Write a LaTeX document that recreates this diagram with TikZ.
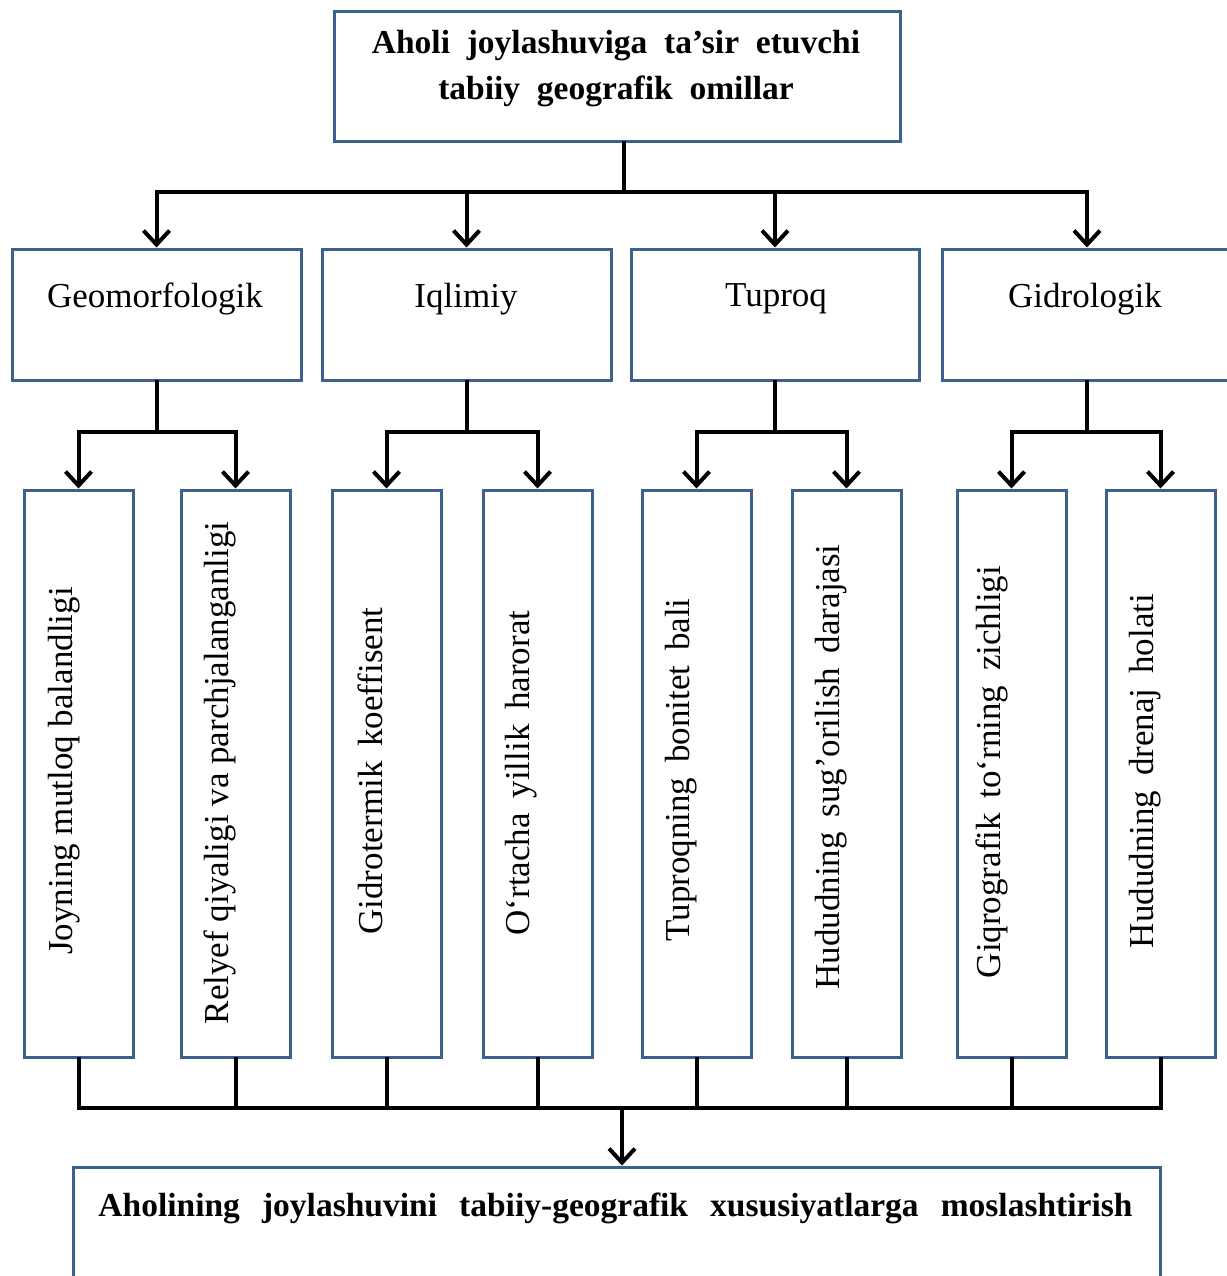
\documentclass[tikz,border=0pt]{standalone}
\usepackage{fontspec}
\setmainfont{Liberation Serif}
\usetikzlibrary{arrows.meta}
\definecolor{boxblue}{RGB}{62,96,140}
\newcommand\wsp{\hspace{0.42em}}
\newcommand\bsp{\hspace{0.5em}}
\newcommand\csp{\hspace{0.66em}}
\tikzset{
  box/.style={draw=boxblue, line width=3pt, inner sep=0pt, fill=white},
  conn/.style={draw=black, line width=4pt, line cap=rect},
  arr/.style={draw=black, line width=4pt, -{Straight Barb[length=14pt,width=26pt,line width=4pt]}},
  toptext/.style={font=\fontsize{33.5}{46}\selectfont\bfseries, align=center, inner sep=0pt},
  midtext/.style={font=\fontsize{35}{40}\selectfont, inner sep=0pt},
  vtext/.style={font=\fontsize{35}{40}\selectfont, inner sep=0pt, rotate=90},
}
\begin{document}
\begin{tikzpicture}[x=1pt,y=-1pt]
\useasboundingbox (0,0) rectangle (1226,1276);
% top box
\node[box, minimum width=566, minimum height=130] (top) at (617,77) {};
\node[toptext] (topt) at (616,69) {Aholi\bsp joylashuviga\bsp ta’sir\bsp etuvchi\\tabiiy\bsp geografik\bsp omillar};
% level 2
\node[box, minimum width=289, minimum height=131] (g1) at (156.5,314.5) {};
\node[box, minimum width=289, minimum height=131] (g2) at (466.5,314.5) {};
\node[box, minimum width=288, minimum height=131] (g3) at (775,314.5) {};
\node[box, minimum width=290, minimum height=131] (g4) at (1087,314.5) {};
\node[midtext] (t1) at (155,299) {Geomorfologik};
\node[midtext] (t2) at (466,299) {Iqlimiy};
\node[midtext] (t3) at (776,299) {Tuproq};
\node[midtext] (t4) at (1085,299) {Gidrologik};
% level 3
\foreach \n/\x in {1/78.5,2/235.5,3/386.5,4/537.5,5/696.5,6/846.5,7/1011.5,8/1160.5}{
  \node[box, minimum width=109, minimum height=567] (b\n) at (\x,773.5) {};
}
\node[vtext] (v1) at (64,771) {Joyning mutloq balandligi};
\node[vtext] (v2) at (220,773) {Relyef qiyaligi va parchjalanganligi};
\node[vtext] (v3) at (370,771) {Gidrotermik\wsp koeffisent};
\node[vtext] (v4) at (521,773) {O‘rtacha\wsp yillik\wsp harorat};
\node[vtext] (v5) at (681,770) {Tuproqning\wsp bonitet\wsp bali};
\node[vtext] (v6) at (831,767) {Hududning\wsp sug’orilish\wsp darajasi};
\node[vtext] (v7) at (992,772) {Giqrografik\wsp to‘rning\wsp zichligi};
\node[vtext] (v8) at (1145,771) {Hududning\wsp drenaj\wsp holati};
% bottom box
\node[box, minimum width=1087, minimum height=130] (bot) at (616.5,1232) {};
\node[font=\fontsize{33.5}{40}\selectfont\bfseries, inner sep=0pt] (bt) at (615.5,1208) {Aholining\csp joylashuvini\csp tabiiy-geografik\csp xususiyatlarga\csp moslashtirish};
% connectors top -> level 2
\coordinate (j0) at (624,192);
\draw[conn] (j0 |- top.south) -- (j0);
\draw[conn] (g1.north |- j0) -- (g4.north |- j0);
\foreach \n in {1,2,3,4}{ \draw[arr] (g\n.north |- j0) -- (g\n.north); }
% level 2 -> level 3
\coordinate (y3) at (0,432);
\foreach \p/\a/\b in {g1/b1/b2, g2/b3/b4, g3/b5/b6, g4/b7/b8}{
  \draw[conn] (\p.south) -- (\p.south |- y3);
  \draw[conn] (\a.north |- y3) -- (\b.north |- y3);
  \draw[arr] (\a.north |- y3) -- (\a.north);
  \draw[arr] (\b.north |- y3) -- (\b.north);
}
% level 3 -> bottom
\coordinate (y4) at (622,1108);
\foreach \n in {1,...,8}{ \draw[conn] (b\n.south) -- (b\n.south |- y4); }
\draw[conn] (b1.south |- y4) -- (b8.south |- y4);
\draw[arr] (y4) -- (y4 |- bot.north);
\end{tikzpicture}
\end{document}
